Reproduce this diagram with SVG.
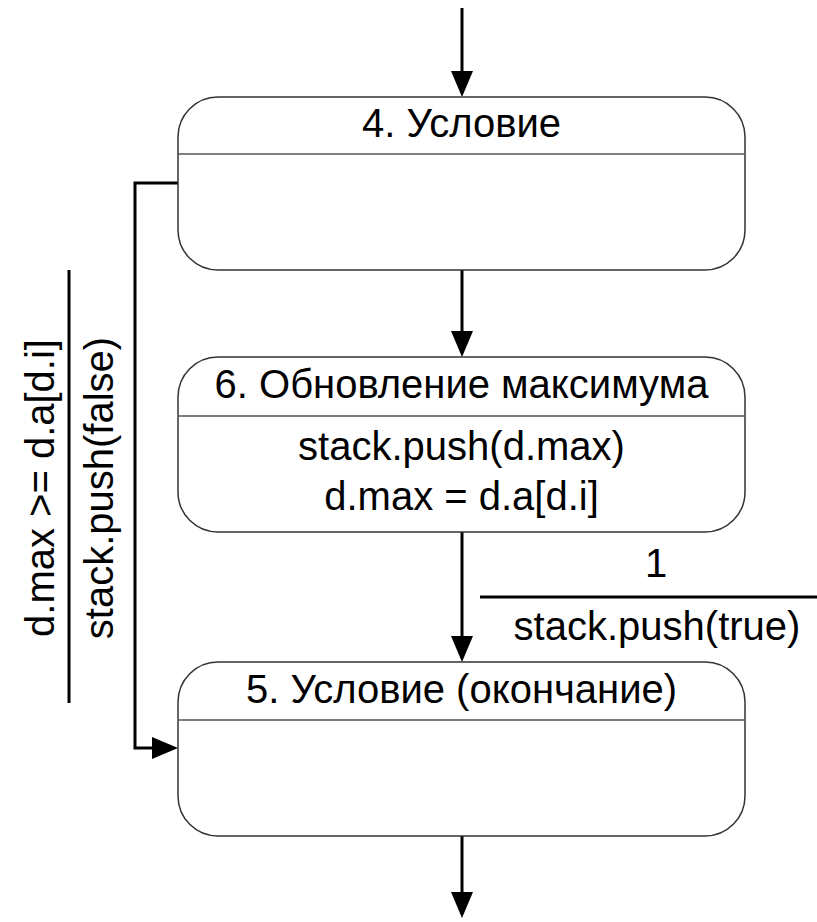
<svg xmlns="http://www.w3.org/2000/svg" width="817" height="922" viewBox="0 0 817 922">
<style>
  .box { fill: #ffffff; stroke: #333333; stroke-width: 1.5; }
  .div { stroke: #555555; stroke-width: 1.5; fill: none; }
  .t { font-family: "Liberation Sans", Arial, sans-serif; font-size: 40px; fill: #000000; text-anchor: middle; }
  .conn { stroke: #000000; stroke-width: 3; fill: none; }
</style>
<defs>
  <marker id="arr" markerUnits="userSpaceOnUse" markerWidth="26" markerHeight="22" viewBox="0 0 26 22" refX="22" refY="11" orient="auto">
    <path d="M0,0 L26,11 L0,22 z" fill="#000000"/>
  </marker>
</defs>
<rect width="817" height="922" fill="#ffffff"/>
<g id="connectors">
  <path class="conn" d="M462,8 V93" marker-end="url(#arr)"/>
  <path class="conn" d="M462,270 V353" marker-end="url(#arr)"/>
  <path class="conn" d="M462,532 V658" marker-end="url(#arr)"/>
  <path class="conn" d="M462,836 V914" marker-end="url(#arr)"/>
  <path class="conn" d="M178,183 H135 V748 H174" marker-end="url(#arr)"/>
  <line class="conn" x1="69" y1="270" x2="69" y2="703"/>
  <text class="t" transform="translate(54,488) rotate(-90)">d.max &gt;= d.a[d.i]</text>
  <text class="t" transform="translate(113,488) rotate(-90)">stack.push(false)</text>
  <line class="conn" x1="480" y1="597" x2="817" y2="597"/>
  <text class="t" x="656" y="577">1</text>
  <text class="t" x="657" y="640">stack.push(true)</text>
</g>
<g id="node4">
  <rect class="box" x="178" y="97" width="567" height="173" rx="40" ry="40"/>
  <line class="div" x1="178" y1="154" x2="745" y2="154"/>
  <text class="t" x="461.5" y="137">4. Условие</text>
</g>
<g id="node6">
  <rect class="box" x="178" y="357" width="567" height="175" rx="40" ry="40"/>
  <line class="div" x1="178" y1="416" x2="745" y2="416"/>
  <text class="t" x="461.5" y="398">6. Обновление максимума</text>
  <text class="t" x="461.5" y="460">stack.push(d.max)</text>
  <text class="t" x="461.5" y="510">d.max = d.a[d.i]</text>
</g>
<g id="node5">
  <rect class="box" x="178" y="662" width="567" height="174" rx="40" ry="40"/>
  <line class="div" x1="178" y1="720" x2="745" y2="720"/>
  <text class="t" x="461.5" y="703">5. Условие (окончание)</text>
</g>
</svg>
